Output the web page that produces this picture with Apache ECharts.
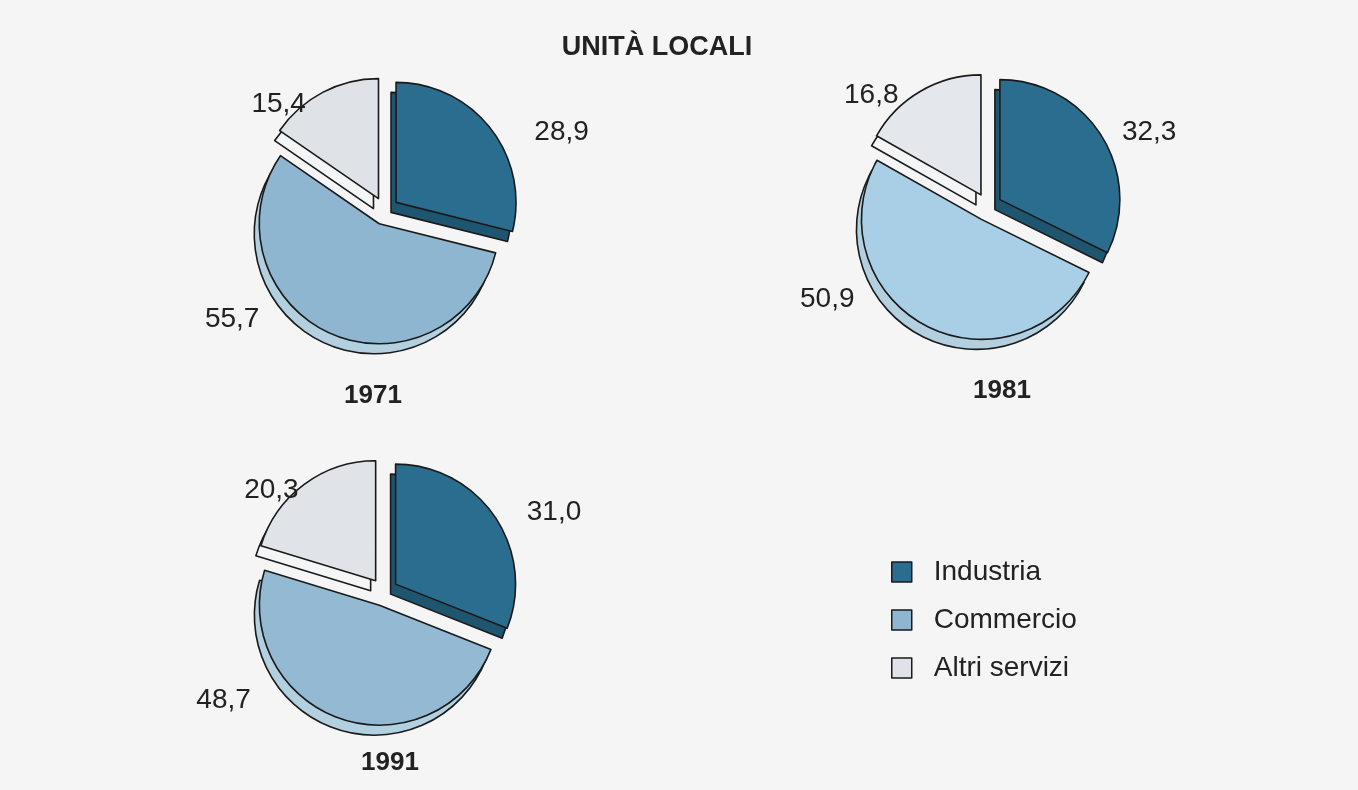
<!DOCTYPE html>
<html>
<head>
<meta charset="utf-8">
<script src="https://cdn.jsdelivr.net/npm/echarts@6/dist/echarts.min.js"></script>
<style>
  html, body { margin: 0; padding: 0; background: #f5f5f5; }
  #chart { width: 1358px; height: 790px; }
</style>
</head>
<body>
<div id="chart"></div>
<script>
// dati: quote percentuali delle unità locali per settore
const categories = ['Industria', 'Commercio', 'Altri servizi'];
const years = ['1971', '1981', '1991'];
const share1971 = [28.9, 55.7, 15.4];
const share1981 = [32.3, 50.9, 16.8];
const share1991 = [31.0, 48.7, 20.3];

const chart = echarts.init(document.getElementById('chart'));
const FONT = 'Liberation Sans, Arial, sans-serif';

// colori faccia superiore / spessore
const topColors = {
  '1971': ['#2b6d8e', '#8fb6d0', '#dfe3e8'],
  '1981': ['#2b6d8e', '#a8cfe5', '#e4e8ec'],
  '1991': ['#2b6d8e', '#93b9d3', '#e0e3e7']
};
const sideColors = ['#1f566f', '#b3d0e1', '#f4f5f6'];
// spostamento delle etichette rispetto alla posizione radiale
const labelShift = {
  '1971': [[34, 7], [-63, -19], [-9, 17]],
  '1981': [[10, -1], [-63, -31], [-14, 9]],
  '1991': [[22, -1], [-82, -24], [3, 11]]
};

const centers = {
  '1971': [385, 211],
  '1981': [988, 207],
  '1991': [384, 592]
};
const radius = 120;

function fmt(v) {
  return v.toFixed(1).replace('.', ',');
}

function buildData(values, colors) {
  return values.map(function (v, i) {
    return { name: categories[i], value: v, selected: true, itemStyle: { color: colors[i] } };
  });
}

const shares = { '1971': share1971, '1981': share1981, '1991': share1991 };

let topSeries = [];
let sideSeries = [];
years.forEach(function (y) {
  const c = centers[y];
  topSeries.push({
    name: y,
    type: 'pie',
    z: 3,
    center: c,
    radius: radius,
    startAngle: 90,
    selectedMode: 'multiple',
    selectedOffset: 14,
    animation: false,
    itemStyle: { borderColor: '#1a1a1a', borderWidth: 1.6 },
    label: {
      show: true,
      position: 'outside',
      formatter: function (p) { return fmt(p.value); },
      fontFamily: FONT,
      fontSize: 28,
      color: '#222'
    },
    labelLine: { show: false, length: 6, length2: 0 },
    labelLayout: function (p) {
      const s = labelShift[y][p.dataIndex];
      return { dx: s[0], dy: s[1] };
    },
    emphasis: { disabled: true },
    data: buildData(shares[y], topColors[y])
  });
  // spessore simulato: stessa torta spostata in basso a sinistra
  sideSeries.push({
    name: y + ' spessore',
    type: 'pie',
    z: 2,
    silent: true,
    center: [c[0] - 5, c[1] + 10],
    radius: radius,
    startAngle: 90,
    selectedMode: 'multiple',
    selectedOffset: 14,
    animation: false,
    itemStyle: { borderColor: '#1a1a1a', borderWidth: 1.6 },
    label: { show: false },
    labelLine: { show: false },
    emphasis: { disabled: true },
    data: buildData(shares[y], sideColors)
  });
});

const titleStyle = { fontFamily: FONT, fontSize: 26, fontWeight: 'bold', color: '#222' };

const option = {
  backgroundColor: '#f5f5f5',
  title: [
    { text: 'UNITÀ LOCALI', left: 652, top: 29, textAlign: 'center', textStyle: Object.assign({}, titleStyle, { fontSize: 27 }) },
    { text: years[0], left: 368, top: 378, textAlign: 'center', textStyle: titleStyle },
    { text: years[1], left: 997, top: 373, textAlign: 'center', textStyle: titleStyle },
    { text: years[2], left: 385, top: 745, textAlign: 'center', textStyle: titleStyle }
  ],
  legend: {
    orient: 'vertical',
    left: 886,
    top: 553,
    icon: 'rect',
    itemWidth: 20,
    itemHeight: 20,
    itemGap: 20,
    selectedMode: false,
    data: categories,
    itemStyle: { borderColor: '#1a1a1a', borderWidth: 1.5 },
    textStyle: {
      fontFamily: FONT,
      fontSize: 28,
      lineHeight: 20,
      color: '#222',
      padding: [0, 0, 0, 17]
    }
  },
  series: topSeries.concat(sideSeries)
};

chart.setOption(option);
</script>
</body>
</html>
